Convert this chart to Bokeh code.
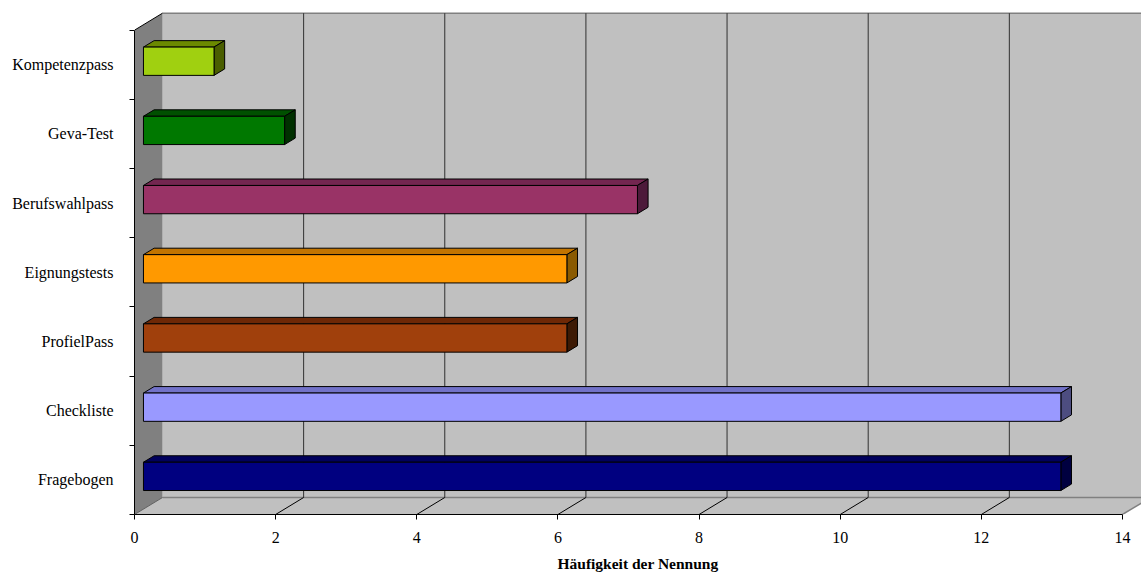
from bokeh.plotting import figure
from bokeh.models import FixedTicker, Range1d
from bokeh.embed import file_html
from bokeh.resources import INLINE

# ---------------- data ----------------
categories = ["Fragebogen", "Checkliste", "ProfielPass", "Eignungstests",
              "Berufswahlpass", "Geva-Test", "Kompetenzpass"]
values = [13, 13, 6, 6, 7, 2, 1]
front_colors = ["#000080", "#9999ff", "#a0400c", "#ff9900", "#993366", "#007800", "#a0d010"]
top_colors = ["#00005c", "#7272c8", "#6e2806", "#c27400", "#732650", "#005000", "#6b8a00"]
side_colors = ["#000040", "#4d4d80", "#3d1a05", "#8a5a00", "#4d1a3a", "#003000", "#4a5e00"]
x_ticks = [0, 2, 4, 6, 8, 10, 12, 14]
x_title = "Häufigkeit der Nennung"

# ---------------- geometry (style) ----------------
XMAX = 14
NCAT = len(categories)
PX_X = 70.57
DX = 28 / PX_X           # depth offset in x units
DY = 17 / 69.2           # depth offset in y units
F1, F2 = 0.32, 0.70      # bar depth (front / back fraction)
BA, BB = 0.268, 0.677    # bar extent within band
FONT = "Liberation Serif"

p = figure(width=1141, height=574, output_backend="svg", toolbar_location=None,
           x_range=Range1d(0, (1141 - 134) / PX_X), y_range=Range1d(0, 7.27),
           min_border_left=134, min_border_right=0, min_border_top=11,
           min_border_bottom=60, outline_line_color=None)
p.xgrid.visible = False
p.ygrid.visible = False
p.background_fill_color = "white"
p.border_fill_color = "white"

# back wall
wall_top = NCAT + DY
p.quad(left=DX, right=XMAX + 2, bottom=DY, top=wall_top,
       fill_color="#c0c0c0", line_color=None)
p.line([DX, XMAX + 2], [wall_top, wall_top], line_color="#808080", line_width=1.5)
# floor
p.patch([0, XMAX, XMAX + DX, DX], [0, 0, DY, DY], fill_color="#c0c0c0", line_color=None)
p.line([DX, XMAX + DX], [DY, DY], line_color="#808080", line_width=1.5)
p.line([XMAX, XMAX + DX], [0, DY], line_color="#808080", line_width=1.5)
# left wall
p.patch([0, DX, DX, 0], [0, DY, wall_top, NCAT], fill_color="#808080", line_color=None)
p.line([0, DX], [NCAT, wall_top], line_color="black", line_width=1)
p.line([0, DX], [0, DY], line_color="#606060", line_width=1)

# gridlines on back wall + floor diagonals
gx = [t for t in x_ticks if 0 < t < XMAX]
p.segment(x0=[t + DX for t in gx], y0=[DY] * len(gx), x1=[t + DX for t in gx],
          y1=[wall_top] * len(gx), line_color="#303030", line_width=1)
p.segment(x0=gx, y0=[0] * len(gx), x1=[t + DX for t in gx], y1=[DY] * len(gx),
          line_color="black", line_width=1)

# bars (3D)
fx = F1 * DX
fy = F1 * DY
ddx = (F2 - F1) * DX
ddy = (F2 - F1) * DY
fl, fr, fb, ft = [], [], [], []
tops_x, tops_y, sides_x, sides_y = [], [], [], []
for i, v in enumerate(values):
    l = fx
    r = v + fx
    b = i + BA + fy
    t = i + BB + fy
    fl.append(l); fr.append(r); fb.append(b); ft.append(t)
    tops_x.append([l, r, r + ddx, l + ddx])
    tops_y.append([t, t, t + ddy, t + ddy])
    sides_x.append([r, r + ddx, r + ddx, r])
    sides_y.append([b, b + ddy, t + ddy, t])

p.patches(xs=tops_x, ys=tops_y, fill_color=top_colors, line_color="black", line_width=1)
p.patches(xs=sides_x, ys=sides_y, fill_color=side_colors, line_color="black", line_width=1)
p.quad(left=fl, right=fr, bottom=fb, top=ft, fill_color=front_colors,
       line_color="black", line_width=1)

# x axis
xa = p.xaxis[0]
xa.ticker = FixedTicker(ticks=x_ticks, minor_ticks=[])
xa.bounds = (0, XMAX)
xa.axis_line_color = "black"
xa.major_tick_in = 0
xa.major_tick_out = 5
xa.major_tick_line_color = "black"
xa.minor_tick_line_color = None
xa.major_label_standoff = 12
xa.major_label_text_font = FONT
xa.major_label_text_font_size = "16px"
xa.major_label_text_color = "black"
xa.axis_label = x_title
xa.axis_label_text_font = FONT
xa.axis_label_text_font_size = "15.5px"
xa.axis_label_text_font_style = "bold"
xa.axis_label_text_color = "black"
xa.axis_label_standoff = 9

# y axis
ya = p.yaxis[0]
ya.ticker = FixedTicker(ticks=[i + 0.5 for i in range(NCAT)],
                        minor_ticks=list(range(NCAT + 1)))
ya.major_label_overrides = {i + 0.5: c for i, c in enumerate(categories)}
ya.bounds = (0, NCAT)
ya.axis_line_color = "black"
ya.major_tick_line_color = None
ya.major_tick_in = 0
ya.major_tick_out = 0
ya.minor_tick_line_color = "black"
ya.minor_tick_in = 0
ya.minor_tick_out = 5
ya.major_label_standoff = 16
ya.major_label_text_font = FONT
ya.major_label_text_font_size = "16px"
ya.major_label_text_color = "black"

open("out.html", "w").write(file_html(p, INLINE))
